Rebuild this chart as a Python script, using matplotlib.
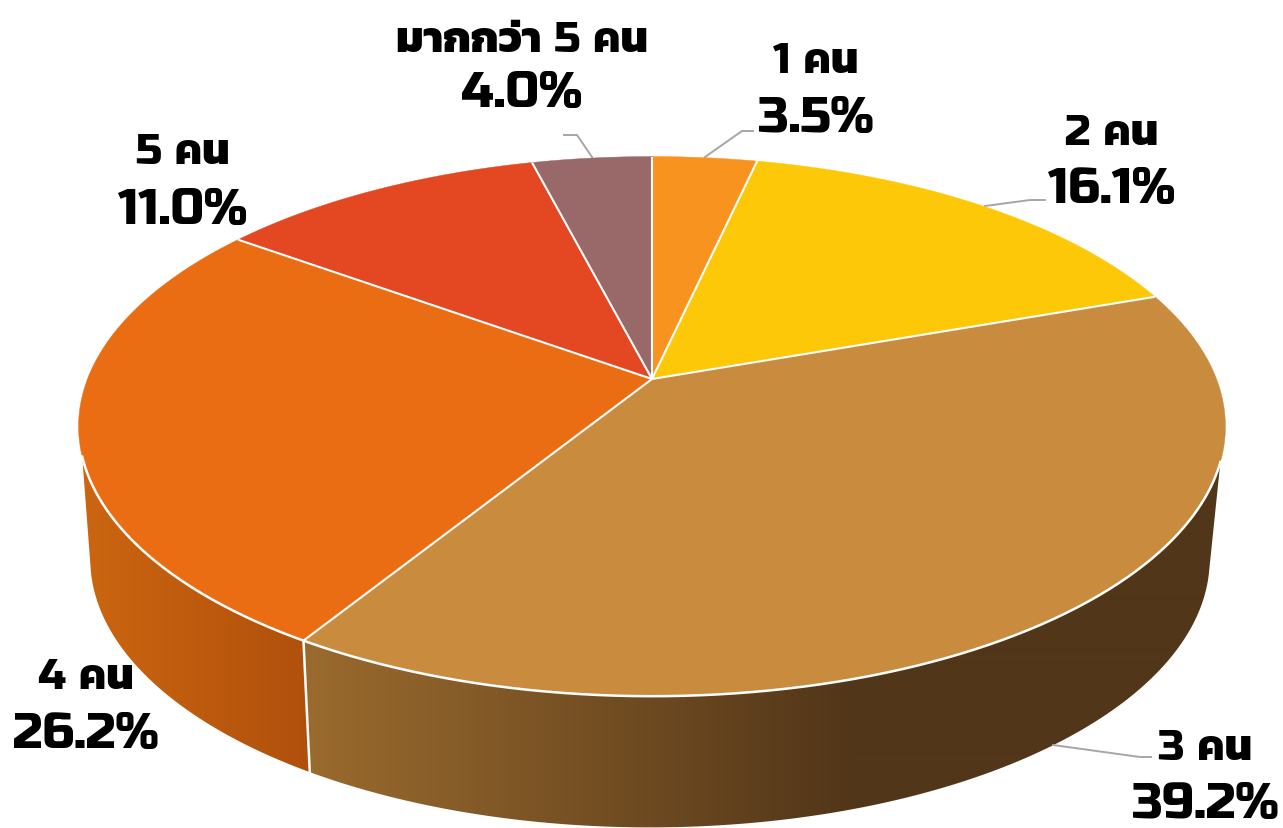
import numpy as np
import matplotlib
matplotlib.use('Agg')
import matplotlib.pyplot as plt
from matplotlib.patches import Polygon

# values, clockwise from 12 o'clock
categories = ['1 คน', '2 คน', '3 คน', '4 คน', '5 คน', 'มากกว่า 5 คน']
values = [3.5, 16.1, 39.2, 26.2, 11.0, 4.0]
top_colors = ['#F8931F', '#FDC808', '#C98B3E', '#EA6D13', '#E34822', '#99696A']

# label baselines: name centre x, name y, pct y (pixels)
label_x = [816, 1112, 1205, 86, 183, 522]
name_y = [73, 145, 760, 689, 164, 52]
pct_y = [132, 203, 818, 748, 224, 107]

# leader lines (pixels)
leaders = [
    [(705, 158), (742, 132), (753, 132)],
    [(985, 207), (1030, 201), (1045, 201)],
    [(1053, 746), (1140, 758), (1151, 758)],
    [(592, 158), (577, 136), (564, 136)],
]

W, H = 1283, 829
K = 0.1756  # perspective of the tilted disc

fig = plt.figure(figsize=(W / 100, H / 100), dpi=100)
ax = fig.add_axes([0, 0, 1, 1])
ax.set_xlim(0, W)
ax.set_ylim(H, 0)
ax.axis('off')


def rim(theta, cx, cy, a, b):
    """Point(s) on the tilted circle, theta in degrees clockwise from top."""
    t = np.radians(theta)
    u, v = np.sin(t), np.cos(t)
    w = 1 + K * v
    return np.column_stack([cx + a * u / w, cy - b * v / w])


def top_rim(theta):
    return rim(theta, 652, 380, 564.5, 261.5)


def low_rim(theta):
    return rim(theta, 650, 513, 551, 260)


def side(t1, t2, t1_low, t2_low, stops_x, stops_rgb):
    """Gradient filled wall between the top rim and the bottom rim."""
    pts = np.vstack([top_rim(np.linspace(t1, t2, 200)),
                     low_rim(np.linspace(t2_low, t1_low, 200))])
    poly = Polygon(pts, closed=True, fc='none', ec='none', transform=ax.transData)
    ax.add_patch(poly)
    xs = np.arange(W)
    rgb = np.array(stops_rgb) / 255
    grad = np.column_stack([np.interp(xs, stops_x, rgb[:, i]) for i in range(3)])
    im = ax.imshow(grad[None, :, :], extent=(0, W, H, 0), aspect='auto',
                   interpolation='bilinear', zorder=1)
    im.set_clip_path(poly)


edges = np.cumsum([0] + values) / sum(values) * 360

# walls: 3 คน on the right, 4 คน on the left
side(107.5, edges[3], 103.4, edges[3],
     [303, 850, 1283], [(155, 107, 46), (82, 54, 25), (82, 54, 25)])
side(edges[3], 253.6, edges[3], 258.6,
     [78, 310], [(204, 102, 17), (176, 80, 12)])
ax.set_xlim(0, W)
ax.set_ylim(H, 0)

# white seam between the two walls
seam = np.vstack([top_rim(edges[3]), low_rim(edges[3])])
ax.plot(seam[:, 0], seam[:, 1], color='white', lw=1.8, zorder=2)

# top face, the white outline only shows on the radii and the front rim
apex = np.array([652, 380])
for i, col in enumerate(top_colors):
    arc = top_rim(np.linspace(edges[i], edges[i + 1], 200))
    ax.add_patch(Polygon(np.vstack([apex, arc]), closed=True, fc=col, ec=col,
                         lw=0.3, zorder=3))
for e in edges[:-1]:
    p = top_rim(e)[0]
    ax.plot([apex[0], p[0]], [apex[1], p[1]], color='white', lw=1.5,
            solid_capstyle='butt', zorder=4)
front = top_rim(np.linspace(107.5, 253.6, 300))
ax.plot(front[:, 0], front[:, 1], color='white', lw=1.8, zorder=4)

for pts in leaders:
    p = np.array(pts)
    ax.plot(p[:, 0], p[:, 1], color='#A6A6A6', lw=1.4, zorder=2)

font = dict(family=['Russo One', 'Kanit'], weight=800, color='black',
            ha='center', va='baseline', zorder=5)
for i, name in enumerate(categories):
    ax.text(label_x[i], name_y[i], name, fontsize=31, **font)
    ax.text(label_x[i], pct_y[i], f'{values[i]:.1f}%', fontsize=36, **font)

fig.savefig('out.png', dpi=100, facecolor='white')
